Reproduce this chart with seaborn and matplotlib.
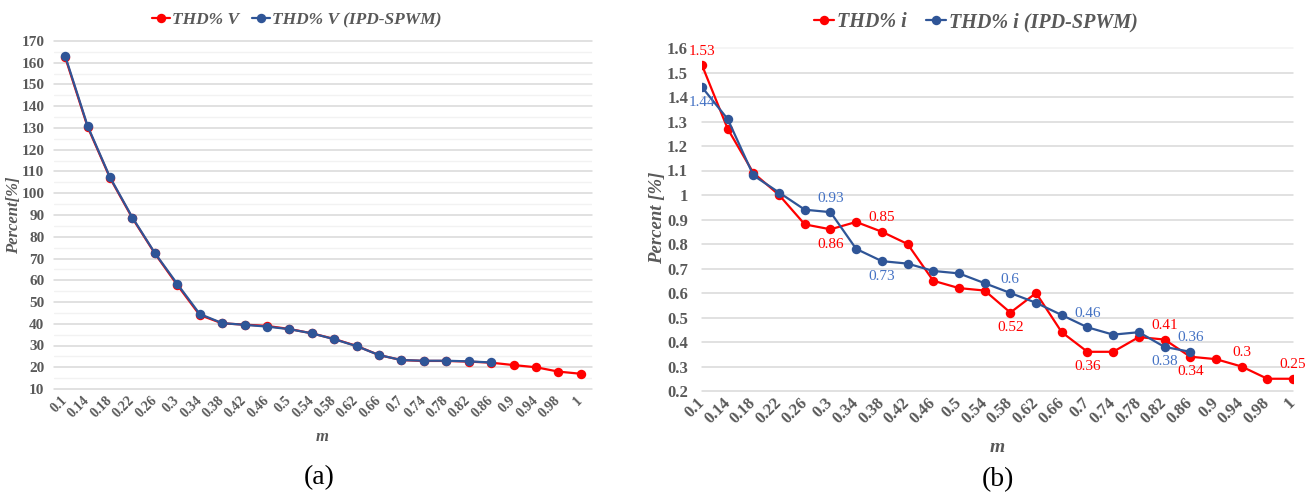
import numpy as np
import pandas as pd
import matplotlib
matplotlib.use("Agg")
import matplotlib.pyplot as plt
import seaborn as sns
from matplotlib.lines import Line2D

# ---------------- data ----------------
m_labels = ['0.1', '0.14', '0.18', '0.22', '0.26', '0.3', '0.34', '0.38', '0.42',
            '0.46', '0.5', '0.54', '0.58', '0.62', '0.66', '0.7', '0.74', '0.78',
            '0.82', '0.86', '0.9', '0.94', '0.98', '1']

thd_v = [162.5, 130.5, 107.0, 88.5, 72.3, 57.8, 44.0, 40.2, 39.6, 39.0, 37.6, 35.6,
         33.0, 29.8, 25.6, 23.3, 22.9, 22.9, 22.6, 22.1, 21.0, 20.0, 18.0, 17.0]
thd_v_ipd = [163.1, 130.9, 107.3, 88.8, 72.5, 58.3, 44.5, 40.3, 39.5, 38.7, 37.5,
             35.6, 32.9, 29.7, 25.6, 23.3, 23.0, 23.0, 22.7, 22.2]

thd_i = [1.53, 1.27, 1.09, 1.00, 0.88, 0.86, 0.89, 0.85, 0.80, 0.65, 0.62, 0.61,
         0.52, 0.60, 0.44, 0.36, 0.36, 0.42, 0.41, 0.34, 0.33, 0.30, 0.25, 0.25]
thd_i_ipd = [1.44, 1.31, 1.08, 1.01, 0.94, 0.93, 0.78, 0.73, 0.72, 0.69, 0.68, 0.64,
             0.60, 0.56, 0.51, 0.46, 0.43, 0.44, 0.38, 0.36]

# data labels shown (category index -> placement)
thd_i_labelled = {0: 'above', 5: 'below', 7: 'above', 12: 'below', 15: 'below',
                  18: 'above', 19: 'below', 21: 'above', 23: 'above'}
thd_i_ipd_labelled = {0: 'below', 5: 'above', 7: 'below', 12: 'above', 15: 'above',
                      18: 'below', 19: 'above'}

# ---------------- style ----------------
sns.set_theme(style="white")
plt.rcParams['font.family'] = ['Liberation Serif', 'DejaVu Serif']

RED = '#FF0000'
BLUE = '#2F5597'
BLUE_TXT = '#4472C4'
GRAY = '#595959'
GRID = '#D9D9D9'
GRID_MINOR = '#F2F2F2'

W, H = 1315, 497
fig = plt.figure(figsize=(W / 100, H / 100), dpi=100)


def frac_rect(x0, x1, ytop, ybot):
    return [x0 / W, 1 - ybot / H, (x1 - x0) / W, (ybot - ytop) / H]


ax1 = fig.add_axes(frac_rect(54, 592, 41, 389))
ax2 = fig.add_axes(frac_rect(702, 1293, 48, 391))

line_kw = dict(marker='o', markersize=6.8, linewidth=1.6, markeredgewidth=0)


def series_df(vals, name):
    return pd.DataFrame({'pos': np.arange(len(vals)), 'val': vals, 'series': name})


# ---------------- (a) ----------------
sns.lineplot(data=series_df(thd_v, 'THD% V'), x='pos', y='val', ax=ax1,
             color=RED, markeredgecolor=RED, **line_kw)
sns.lineplot(data=series_df(thd_v_ipd, 'THD% V (IPD-SPWM)'), x='pos', y='val', ax=ax1,
             color=BLUE, markeredgecolor=BLUE, **line_kw)

ax1.set_xlim(-0.5, len(m_labels) - 0.5)
ax1.set_ylim(10, 170)
for v in np.arange(15, 170, 10):
    ax1.axhline(v, color=GRID_MINOR, lw=1.0, zorder=0)
for v in np.arange(10, 171, 10):
    ax1.axhline(v, color=GRID, lw=1.1, zorder=0, clip_on=False)
yt1 = np.arange(10, 171, 10)
ax1.set_yticks(yt1)
ax1.set_yticklabels([f'{v:g}' for v in yt1], fontsize=11, fontweight='bold',
                    color=GRAY)

# ---------------- (b) ----------------
sns.lineplot(data=series_df(thd_i, 'THD% i'), x='pos', y='val', ax=ax2,
             color=RED, markeredgecolor=RED, **line_kw)
sns.lineplot(data=series_df(thd_i_ipd, 'THD% i (IPD-SPWM)'), x='pos', y='val', ax=ax2,
             color=BLUE, markeredgecolor=BLUE, **line_kw)

ax2.set_xlim(0, len(m_labels) - 1)
ax2.set_ylim(0.2, 1.6)
yt2 = np.round(np.arange(0.2, 1.61, 0.1), 2)
for v in yt2:
    ax2.axhline(v, color=(GRID_MINOR if v >= 1.6 else GRID), lw=1.1, zorder=0,
                clip_on=False)
ax2.set_yticks(yt2)
ax2.set_yticklabels([f'{v:g}' for v in yt2], fontsize=12, fontweight='bold',
                    color=GRAY)

for idx, pos in thd_i_labelled.items():
    off = 14 if pos == 'above' else -15
    ax2.annotate(f'{thd_i[idx]:g}', (idx, thd_i[idx]), xytext=(0, off),
                 textcoords='offset pixels', ha='center', va='center',
                 color=RED, fontsize=11, clip_on=False)
for idx, pos in thd_i_ipd_labelled.items():
    off = 14 if pos == 'above' else -15
    ax2.annotate(f'{thd_i_ipd[idx]:g}', (idx, thd_i_ipd[idx]), xytext=(0, off),
                 textcoords='offset pixels', ha='center', va='center',
                 color=BLUE_TXT, fontsize=11, clip_on=False)

# ---------------- common axis styling ----------------
for ax, xfs, ypad in ((ax1, 10, 7), (ax2, 12, 10)):
    ax.set_xticks(np.arange(len(m_labels)))
    ax.set_xticklabels(m_labels, rotation=45, ha='right', va='center',
                       rotation_mode='anchor', fontsize=xfs, fontweight='bold',
                       color=GRAY)
    ax.tick_params(axis='x', length=0, pad=7)
    ax.tick_params(axis='y', length=0, pad=ypad)
    for s in ax.spines.values():
        s.set_visible(False)
    ax.set_xlabel('')
    ax.set_ylabel('')
    ax.grid(False)
    ax.set_facecolor('white')
    if ax.get_legend():
        ax.get_legend().remove()

# axis titles
fig.text(14 / W, 1 - 215 / H, 'Percent[%]', rotation=90, ha='center', va='center',
         fontsize=12, fontweight='bold', style='italic', color=GRAY)
fig.text(658 / W, 1 - 218 / H, 'Percent [%]', rotation=90, ha='center', va='center',
         fontsize=13.5, fontweight='bold', style='italic', color=GRAY)
fig.text(322 / W, 1 - 437 / H, 'm', ha='center', va='center',
         fontsize=12, fontweight='bold', style='italic', color=GRAY)
fig.text(997 / W, 1 - 448 / H, 'm', ha='center', va='center',
         fontsize=14, fontweight='bold', style='italic', color=GRAY)

# captions
fig.text(319 / W, 1 - 478 / H, '(a)', ha='center', va='center', fontsize=20,
         color='black')
fig.text(998 / W, 1 - 480 / H, '(b)', ha='center', va='center', fontsize=20,
         color='black')


# legends
def handle(c):
    return Line2D([0], [0], color=c, marker='o', markersize=6.8, linewidth=1.6,
                  markeredgewidth=0)


leg1 = fig.legend([handle(RED), handle(BLUE)], ['THD% V', 'THD% V (IPD-SPWM)'],
                  loc='center', bbox_to_anchor=(297 / W, 1 - 20 / H), ncol=2,
                  frameon=False, handlelength=1.0, handletextpad=0.15,
                  columnspacing=0.75,
                  prop=dict(family='Liberation Serif', weight='bold',
                            style='italic', size=12.5))
for t in leg1.get_texts():
    t.set_color(GRAY)
leg2 = fig.legend([handle(RED), handle(BLUE)], ['THD% i', 'THD% i (IPD-SPWM)'],
                  loc='center', bbox_to_anchor=(976 / W, 1 - 22 / H), ncol=2,
                  frameon=False, handlelength=1.0, handletextpad=0.15,
                  columnspacing=0.95,
                  prop=dict(family='Liberation Serif', weight='bold',
                            style='italic', size=14.5))
for t in leg2.get_texts():
    t.set_color(GRAY)

fig.savefig('out.png', dpi=100, facecolor='white')
